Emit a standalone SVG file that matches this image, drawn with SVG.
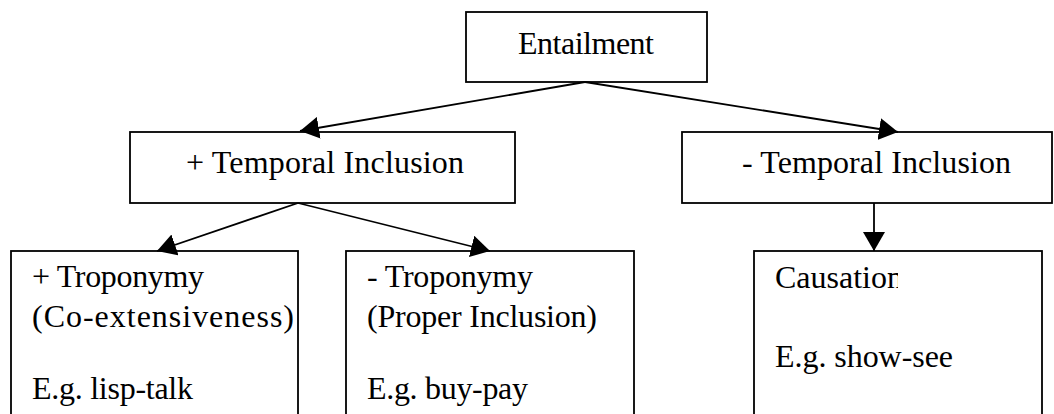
<svg xmlns="http://www.w3.org/2000/svg" width="1054" height="414" viewBox="0 0 1054 414">
<style>
.box{fill:#fff;stroke:#000;stroke-width:1.8}
.lbl{font-family:"Liberation Serif","Times New Roman",serif;font-size:32px;fill:#000}
.conn{stroke:#000;stroke-width:1.8;fill:none;marker-end:url(#ah)}
</style>
<defs>
<marker id="ah" viewBox="0 0 19 22" refX="19" refY="11" markerWidth="19" markerHeight="22" markerUnits="userSpaceOnUse" orient="auto">
<path d="M0,0 L19,11 L0,22 z" fill="#000"/>
</marker>
<clipPath id="cclip"><rect x="754" y="250" width="144" height="60"/></clipPath>
</defs>
<rect width="1054" height="414" fill="#fff"/>
<g id="entailment">
<rect class="box" x="466" y="12" width="241" height="70"/>
<text class="lbl" x="518" y="54" textLength="136" lengthAdjust="spacing">Entailment</text>
</g>
<g id="plus-temporal">
<rect class="box" x="130" y="132" width="385" height="71"/>
<text class="lbl" x="186" y="173" textLength="278" lengthAdjust="spacing">+ Temporal Inclusion</text>
</g>
<g id="minus-temporal">
<rect class="box" x="682" y="132" width="370" height="71"/>
<text class="lbl" x="742" y="173" textLength="269" lengthAdjust="spacing">- Temporal Inclusion</text>
</g>
<g id="plus-troponymy">
<rect class="box" x="11" y="251" width="287" height="180"/>
<text class="lbl" x="32" y="287" textLength="172" lengthAdjust="spacing">+ Troponymy</text>
<text class="lbl" x="32" y="327" textLength="262" lengthAdjust="spacing">(Co-extensiveness)</text>
<text class="lbl" x="32" y="399" textLength="161" lengthAdjust="spacing">E.g. lisp-talk</text>
</g>
<g id="minus-troponymy">
<rect class="box" x="346" y="251" width="288" height="180"/>
<text class="lbl" x="367" y="287" textLength="166" lengthAdjust="spacing">- Troponymy</text>
<text class="lbl" x="367" y="327" textLength="230" lengthAdjust="spacing">(Proper Inclusion)</text>
<text class="lbl" x="367" y="399" textLength="161" lengthAdjust="spacing">E.g. buy-pay</text>
</g>
<g id="causation">
<rect class="box" x="754" y="251" width="288" height="180"/>
<text class="lbl" x="775" y="288" textLength="128" lengthAdjust="spacing" clip-path="url(#cclip)">Causation</text>
<text class="lbl" x="775" y="367" textLength="178" lengthAdjust="spacing">E.g. show-see</text>
</g>
<g id="connectors">
<line class="conn" x1="585" y1="82" x2="300" y2="131"/>
<line class="conn" x1="585" y1="82" x2="898" y2="132"/>
<line class="conn" x1="298" y1="203" x2="157" y2="251"/>
<line class="conn" x1="298" y1="203" x2="490" y2="251"/>
<line class="conn" x1="874" y1="203" x2="874" y2="251"/>
</g>
</svg>
